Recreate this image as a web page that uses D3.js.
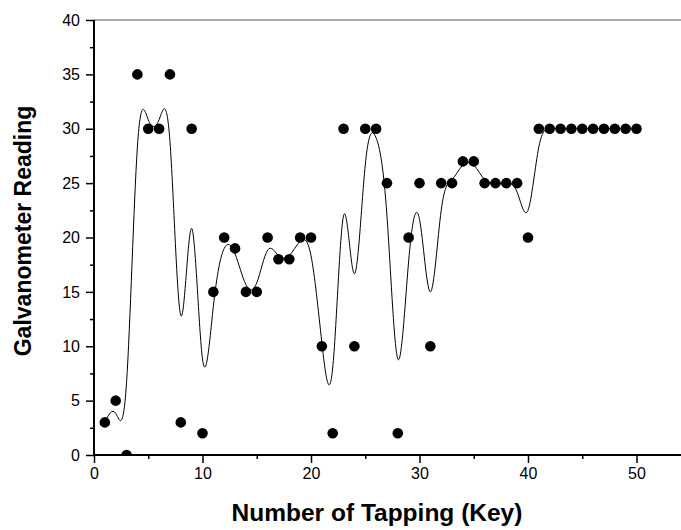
<!DOCTYPE html>
<html>
<head>
<meta charset="utf-8">
<script src="https://cdn.jsdelivr.net/npm/d3@7"></script>
<style>
  body { margin: 0; background: #fff; }
  svg { display: block; font-family: Arial, "Liberation Sans", sans-serif; }
</style>
</head>
<body>
<svg id="chart" width="681" height="530"></svg>
<script>
// tap number and galvanometer reading for each tap
const taps = [1, 2, 3, 4, 5, 6, 7, 8, 9, 10,
  11, 12, 13, 14, 15, 16, 17, 18, 19, 20,
  21, 22, 23, 24, 25, 26, 27, 28, 29, 30,
  31, 32, 33, 34, 35, 36, 37, 38, 39, 40,
  41, 42, 43, 44, 45, 46, 47, 48, 49, 50];
const readings = [3, 5, 0, 35, 30, 30, 35, 3, 30, 2,
  15, 20, 19, 15, 15, 20, 18, 18, 20, 20,
  10, 2, 30, 10, 30, 30, 25, 2, 20, 25,
  10, 25, 25, 27, 27, 25, 25, 25, 25, 20,
  30, 30, 30, 30, 30, 30, 30, 30, 30, 30];

const xMajor = [0, 10, 20, 30, 40, 50];
const xMinor = [5, 15, 25, 35, 45, 55];
const yMajor = [0, 5, 10, 15, 20, 25, 30, 35, 40];
const yMinor = [2.5, 7.5, 12.5, 17.5, 22.5, 27.5, 32.5, 37.5];

const data = taps.map((t, i) => ({ tap: t, value: readings[i] }));

const svg = d3.select('#chart');
const plotBox = { left: 94, top: 20, bottom: 455, right: 681 };

// 55 units would end past the window edge, so the axis just runs off the side
const xScale = d3.scaleLinear().domain([0, 55]).range([plotBox.left, plotBox.left + 55 * 10.85]);
const yScale = d3.scaleLinear().domain([0, 40]).range([plotBox.bottom, plotBox.top]);

svg.append('clipPath').attr('id', 'plot-clip')
  .append('rect')
  .attr('x', plotBox.left).attr('y', plotBox.top)
  .attr('width', plotBox.right - plotBox.left)
  .attr('height', plotBox.bottom - plotBox.top);

// top frame line
svg.append('line')
  .attr('x1', plotBox.left).attr('x2', plotBox.right)
  .attr('y1', plotBox.top).attr('y2', plotBox.top)
  .style('stroke', '#555')
  .style('stroke-width', 1.2);

// minor ticks first, then major ones with labels
const styleAxis = (g) => {
  g.select('.domain').remove();
  g.selectAll('line').style('stroke', '#000').style('stroke-width', 1.5);
  g.selectAll('text').style('font-size', '16px').style('fill', '#000');
};

svg.append('g')
  .attr('transform', `translate(0, ${plotBox.bottom})`)
  .call(d3.axisBottom(xScale).tickValues(xMinor).tickSize(4).tickFormat(''))
  .call(styleAxis);
svg.append('g')
  .attr('transform', `translate(0, ${plotBox.bottom})`)
  .call(d3.axisBottom(xScale).tickValues(xMajor).tickSize(8).tickPadding(5))
  .call(styleAxis);

svg.append('g')
  .attr('transform', `translate(${plotBox.left}, 0)`)
  .call(d3.axisLeft(yScale).tickValues(yMinor).tickSize(4).tickFormat(''))
  .call(styleAxis);
svg.append('g')
  .attr('transform', `translate(${plotBox.left}, 0)`)
  .call(d3.axisLeft(yScale).tickValues(yMajor).tickSize(8).tickPadding(6))
  .call(styleAxis);

// axis lines
svg.append('line')
  .attr('x1', plotBox.left).attr('x2', plotBox.right)
  .attr('y1', plotBox.bottom).attr('y2', plotBox.bottom)
  .style('stroke', '#000').style('stroke-width', 2);
svg.append('line')
  .attr('x1', plotBox.left).attr('x2', plotBox.left)
  .attr('y1', plotBox.top).attr('y2', plotBox.bottom + 1)
  .style('stroke', '#000').style('stroke-width', 2);

const plot = svg.append('g').attr('clip-path', 'url(#plot-clip)');

// smoothed line (b-spline through the readings)
const line = d3.line()
  .x(d => xScale(d.tap))
  .y(d => yScale(d.value))
  .curve(d3.curveBasis);

plot.append('path')
  .datum(data)
  .attr('d', line)
  .style('fill', 'none')
  .style('stroke', '#000')
  .style('stroke-width', 1);

plot.selectAll('.dot')
  .data(data)
  .enter().append('circle')
  .attr('class', 'dot')
  .attr('cx', d => xScale(d.tap))
  .attr('cy', d => yScale(d.value))
  .attr('r', 5.3)
  .style('fill', '#000');

// axis titles
svg.append('text')
  .attr('x', 377).attr('y', 521)
  .attr('text-anchor', 'middle')
  .style('font-size', '24.5px')
  .style('font-weight', 'bold')
  .text('Number of Tapping (Key)');

svg.append('text')
  .attr('transform', 'translate(31, 231) rotate(-90)')
  .attr('text-anchor', 'middle')
  .style('font-size', '23px')
  .style('font-weight', 'bold')
  .text('Galvanometer Reading');
</script>
</body>
</html>
